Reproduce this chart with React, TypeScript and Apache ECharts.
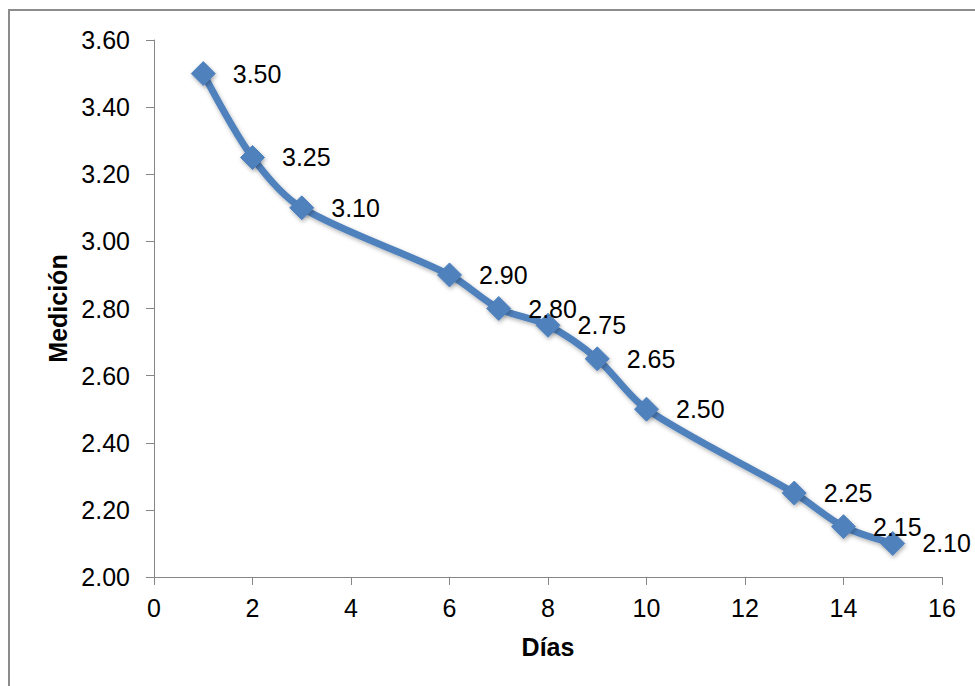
import React, { useEffect, useRef } from "react";
import * as echarts from "echarts";

const dias = [1, 2, 3, 6, 7, 8, 9, 10, 13, 14, 15];
const medicion = [3.5, 3.25, 3.1, 2.9, 2.8, 2.75, 2.65, 2.5, 2.25, 2.15, 2.1];
const xTitle = "Días";
const yTitle = "Medición";

export default function App() {
  const ref = useRef<HTMLDivElement>(null);
  useEffect(() => {
    if (!ref.current) return;
    const chart = echarts.init(ref.current, null, { renderer: "svg" });
    const font = "Liberation Sans, Arial, sans-serif";
    chart.setOption({
      animation: false,
      backgroundColor: "#ffffff",
      graphic: [
        {
          type: "rect",
          shape: { x: 9, y: 10, width: 1000, height: 1000 },
          style: { fill: "none", stroke: "#8c8c8c", lineWidth: 2 },
          silent: true,
        },
      ],
      grid: { left: 154, right: 33, top: 40, bottom: 109 },
      xAxis: {
        type: "value",
        min: 0,
        max: 16,
        interval: 2,
        name: xTitle,
        nameLocation: "middle",
        nameGap: 57,
        nameTextStyle: { fontFamily: font, fontSize: 25, fontWeight: "bold", color: "#000" },
        axisLine: { show: true, lineStyle: { color: "#868686", width: 1 } },
        axisTick: { show: true, length: 8, lineStyle: { color: "#868686" } },
        axisLabel: { fontFamily: font, fontSize: 25, color: "#000", margin: 18 },
        splitLine: { show: false },
      },
      yAxis: {
        type: "value",
        min: 2,
        max: 3.6,
        interval: 0.2,
        name: yTitle,
        nameLocation: "middle",
        nameGap: 84,
        nameRotate: 90,
        nameTextStyle: { fontFamily: font, fontSize: 25, fontWeight: "bold", color: "#000" },
        axisLine: { show: true, lineStyle: { color: "#868686", width: 1 } },
        axisTick: { show: true, length: 8, lineStyle: { color: "#868686" } },
        axisLabel: {
          fontFamily: font,
          fontSize: 25,
          color: "#000",
          margin: 24,
          formatter: (v: number) => v.toFixed(2),
        },
        splitLine: { show: false },
      },
      series: [
        {
          type: "line",
          data: dias.map((d, i) => [d, medicion[i]]),
          smooth: 0.3,
          symbol: "diamond",
          symbolSize: 24,
          lineStyle: {
            color: "#4F81BD",
            width: 7,
            shadowColor: "rgba(0,0,0,0.3)",
            shadowBlur: 4,
            shadowOffsetX: 1,
            shadowOffsetY: 2,
          },
          itemStyle: {
            color: "#4F81BD",
            borderColor: "#4F81BD",
            shadowColor: "rgba(0,0,0,0.3)",
            shadowBlur: 4,
            shadowOffsetX: 1,
            shadowOffsetY: 2,
          },
          label: {
            show: true,
            position: "right",
            distance: 17,
            fontFamily: font,
            fontSize: 25,
            color: "#000",
            formatter: (p: any) => p.value[1].toFixed(2),
          },
        },
      ],
    });
    return () => chart.dispose();
  }, []);
  return (
    <div
      ref={ref}
      style={{ position: "absolute", left: 0, top: 0, width: 975, height: 686 }}
    />
  );
}
